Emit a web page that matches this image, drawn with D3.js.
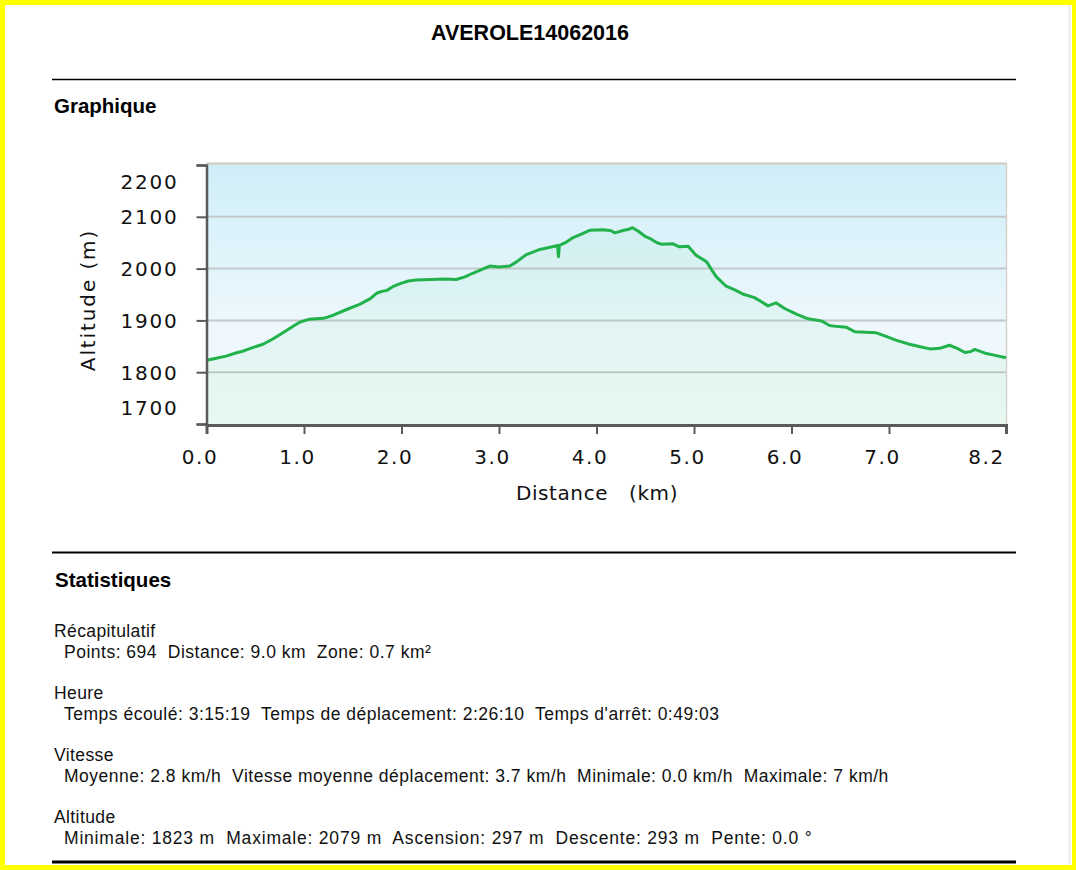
<!DOCTYPE html>
<html>
<head>
<meta charset="utf-8">
<script src="https://cdn.jsdelivr.net/npm/d3@7"></script>
<style>
  html, body { margin: 0; padding: 0; background: #fff; }
  svg { display: block; }
  text { white-space: pre; }
</style>
</head>
<body>
<svg id="chart" width="1076" height="870"></svg>
<script>
// ---- Data ----
const title = "AVEROLE14062016";
const distanceKm = [0.00,0.10,0.20,0.30,0.38,0.48,0.58,0.68,0.80,0.90,0.96,1.05,1.20,1.30,1.45,1.57,1.68,1.75,1.80,1.85,1.91,2.00,2.07,2.15,2.30,2.45,2.56,2.65,2.73,2.82,2.91,3.00,3.11,3.18,3.28,3.42,3.57,3.60,3.61,3.62,3.68,3.76,3.85,3.93,4.07,4.15,4.19,4.28,4.33,4.37,4.43,4.50,4.55,4.62,4.67,4.78,4.85,4.94,5.02,5.08,5.13,5.18,5.23,5.33,5.43,5.50,5.62,5.70,5.76,5.84,5.93,6.05,6.17,6.31,6.39,6.48,6.56,6.65,6.76,6.87,6.97,7.07,7.21,7.32,7.42,7.52,7.62,7.70,7.78,7.84,7.88,8.00,8.10,8.20];
const altitudeM = [1823,1827,1831,1837,1841,1848,1854,1864,1878,1890,1897,1902,1904,1910,1922,1931,1942,1953,1956,1958,1965,1972,1976,1978,1979,1980,1979,1984,1991,1998,2005,2003,2005,2013,2027,2037,2043,2045,2023,2045,2050,2060,2067,2074,2075,2073,2069,2074,2076,2079,2072,2062,2058,2050,2047,2048,2042,2043,2026,2019,2013,1998,1984,1966,1958,1951,1944,1935,1928,1934,1923,1912,1903,1899,1890,1888,1887,1878,1877,1876,1869,1862,1854,1849,1845,1846,1852,1846,1838,1840,1844,1836,1832,1828];
const yTicks = [1700,1800,1900,2000,2100,2200];
const xTicks = [0,1,2,3,4,5,6,7,8.2];
const statGroups = ["Récapitulatif","Heure","Vitesse","Altitude"];
const statLines = [
  "Points: 694  Distance: 9.0 km  Zone: 0.7 km²",
  "Temps écoulé: 3:15:19  Temps de déplacement: 2:26:10  Temps d'arrêt: 0:49:03",
  "Moyenne: 2.8 km/h  Vitesse moyenne déplacement: 3.7 km/h  Minimale: 0.0 km/h  Maximale: 7 km/h",
  "Minimale: 1823 m  Maximale: 2079 m  Ascension: 297 m  Descente: 293 m  Pente: 0.0 °"
];

const data = distanceKm.map((d,i)=>({d, a: altitudeM[i]}));

const svg = d3.select("#chart");

// page frame
svg.append("rect").attr("x",0).attr("y",0).attr("width",1076).attr("height",870).attr("fill","#ffff00");
svg.append("rect").attr("x",5).attr("y",5).attr("width",1067).attr("height",860).attr("fill","#ffffff");
svg.append("line").attr("x1",1069.5).attr("x2",1069.5).attr("y1",5).attr("y2",865).attr("stroke","#ecece4").attr("stroke-width",2);

// title & rules
svg.append("text").attr("x",530).attr("y",40).attr("text-anchor","middle")
  .style("font-family","Liberation Sans, Arial, sans-serif").style("font-weight","bold").style("font-size","21.5px")
  .attr("fill","#000").text(title);
const rule = (y,w)=>svg.append("line").attr("x1",52).attr("x2",1016).attr("y1",y).attr("y2",y).attr("stroke","#000").attr("stroke-width",w);
rule(79.5,1.5); rule(552.5,2); rule(862,3);

svg.append("text").attr("x",54).attr("y",113)
  .style("font-family","Liberation Sans, Arial, sans-serif").style("font-weight","bold").style("font-size","20.5px")
  .text("Graphique");

// ---- chart ----
const x = d3.scaleLinear().domain([0,8.2]).range([206.5,1006]);
const y = d3.scaleLinear().domain([1700,2200]).range([424,165]);

const defs = svg.append("defs");
const bg = defs.append("linearGradient").attr("id","bg").attr("x1",0).attr("y1",0).attr("x2",0).attr("y2",1);
bg.append("stop").attr("offset","0%").attr("stop-color","#cfeef8");
bg.append("stop").attr("offset","65%").attr("stop-color","#eef8fd");
bg.append("stop").attr("offset","100%").attr("stop-color","#f3fbf9");

svg.append("rect").attr("x",x(0)).attr("y",163).attr("width",x(8.2)-x(0)).attr("height",y(1700)-163+1).attr("fill","url(#bg)");

// grid
svg.append("g").selectAll("line").data(yTicks.filter(t=>t>1700 && t<2200)).join("line")
  .attr("x1",x(0)).attr("x2",x(8.2)).attr("y1",d=>y(d)).attr("y2",d=>y(d))
  .attr("stroke","#c4c8ca").attr("stroke-width",2);

// area
const area = d3.area().x(p=>x(p.d)).y0(y(1700)).y1(p=>y(p.a));
svg.append("path").datum(data).attr("d",area).attr("fill","rgb(90,210,130)").attr("fill-opacity",0.07);

// frame top / right
svg.append("line").attr("x1",x(0)).attr("x2",x(8.2)+1).attr("y1",163.5).attr("y2",163.5).attr("stroke","#cfc9c2").attr("stroke-width",2);
svg.append("line").attr("x1",x(8.2)+0.5).attr("x2",x(8.2)+0.5).attr("y1",163).attr("y2",y(1700)).attr("stroke","#d6d3cf").attr("stroke-width",1.5);

// line
const line = d3.line().x(p=>x(p.d)).y(p=>y(p.a));
svg.append("path").datum(data).attr("d",line).attr("fill","none").attr("stroke","#22b24c").attr("stroke-width",3).attr("stroke-linejoin","round");

// axes
const tickFont = "DejaVu Sans, Verdana, sans-serif";
const yAxis = svg.append("g").attr("transform",`translate(${x(0)},0)`)
  .call(d3.axisLeft(y).tickValues(yTicks).tickSize(10).tickPadding(18).tickFormat(d3.format("d")));
const xAxis = svg.append("g").attr("transform",`translate(0,${y(1700)+1})`)
  .call(d3.axisBottom(x).tickValues(xTicks).tickSize(9).tickPadding(16).tickFormat(d3.format(".1f")));
[yAxis,xAxis].forEach(g=>{
  g.select(".domain").attr("stroke","#5a5a5a").attr("stroke-width",2.5);
  g.selectAll(".tick line").attr("stroke","#5a5a5a").attr("stroke-width",2);
  g.selectAll(".tick text").attr("fill","#111").style("font-family",tickFont).style("font-size","20px");
});
xAxis.select(".domain").attr("stroke-width",3);
yAxis.selectAll(".tick text").style("letter-spacing","1.8px");
xAxis.selectAll(".tick text").style("letter-spacing","1.6px")
  .attr("dx", d=> d===8.2 ? "-20" : "-7");
// end-tick labels nudged inward like the reference
yAxis.selectAll(".tick text").attr("dy",d=> d===2200 ? "1.15em" : d===1700 ? "-0.5em" : "0.35em");

// axis titles
svg.append("text").attr("transform","translate(95,300) rotate(-90)").attr("text-anchor","middle")
  .style("font-family",tickFont).style("font-size","20px").style("letter-spacing","1.9px").attr("fill","#111")
  .text("Altitude (m)");
svg.append("text").attr("x",597).attr("y",500).attr("text-anchor","middle")
  .style("font-family",tickFont).style("font-size","20px").style("letter-spacing","0.6px").attr("fill","#111")
  .text("Distance   (km)");

// ---- statistics ----
svg.append("text").attr("x",55).attr("y",587)
  .style("font-family","Liberation Sans, Arial, sans-serif").style("font-weight","bold").style("font-size","20.5px")
  .text("Statistiques");
const sFont = "Liberation Sans, Arial, sans-serif";
statGroups.forEach((g,i)=>{
  const by = 636.5 + i*62;
  svg.append("text").attr("x",54).attr("y",by).style("font-family",sFont).style("font-size","17.5px").style("letter-spacing","0.4px").attr("fill","#111").text(g);
  svg.append("text").attr("x",64).attr("y",by+21).style("font-family",sFont).style("font-size","17.5px")
    .style("letter-spacing", i===3 ? "0.8px" : "0.5px").attr("fill","#111").text(statLines[i]);
});
</script>
</body>
</html>
